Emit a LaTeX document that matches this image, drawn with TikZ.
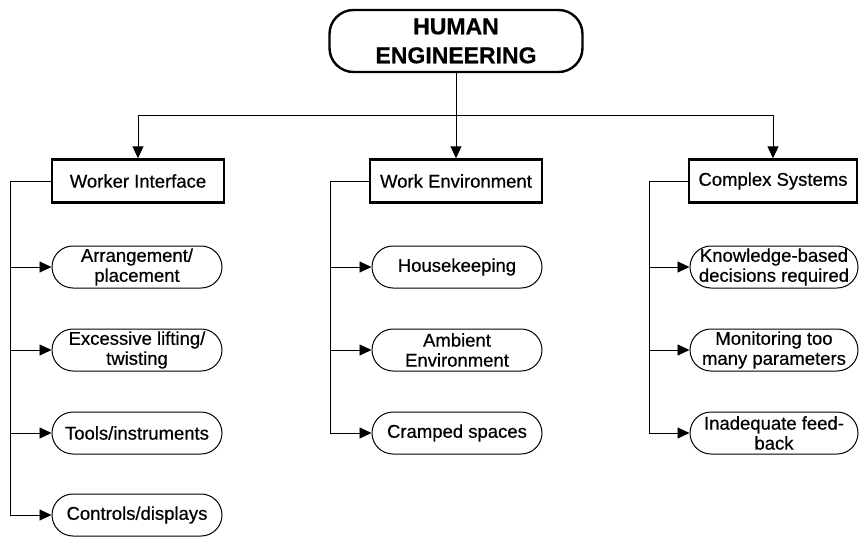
\documentclass[tikz,border=0pt]{standalone}
\usepackage{fontspec}
\setmainfont{Liberation Sans}[FakeBold=0.5]
\newfontfamily\bodyfont{Liberation Sans}[FakeBold=0.5]
\usetikzlibrary{arrows.meta}
\begin{document}
\begin{tikzpicture}[x=1pt,y=-1pt,
  every node/.style={font=\fontsize{18.5}{20}\selectfont, align=center},
  topbox/.style={draw, line width=2.4pt, rounded corners=24pt,
    minimum width=253pt, minimum height=62pt, inner sep=0pt,
    font=\bfseries\fontsize{23}{29}\selectfont},
  catbox/.style={draw, line width=2.4pt, minimum width=172pt,
    minimum height=43pt, inner sep=0pt},
  pill/.style={draw, line width=1pt, rounded corners=21pt,
    minimum width=170pt, minimum height=42pt, inner sep=0pt},
  link/.style={line width=0.9pt},
  arr/.style={link, -{Triangle[length=12pt,width=11pt]}},
]
\useasboundingbox (0,0) rectangle (860,536);

% root and the three categories
\node[topbox] (he) at (456,41) {HUMAN\\ENGINEERING};
\node[catbox] (wi) at (138,181) {\bodyfont Worker Interface};
\node[catbox] (we) at (456,181) {\bodyfont Work Environment};
\node[catbox, minimum width=168pt] (cs) at (773,181) {\bodyfont Complex Systems};

% worker interface items
\node[pill] (w1) at (137,267) {\bodyfont Arrangement/\\placement};
\node[pill] (w2) at (137,350) {\bodyfont Excessive lifting/\\twisting};
\node[pill] (w3) at (137,433) {\bodyfont Tools/instruments};
\node[pill] (w4) at (137,515) {\bodyfont Controls/displays};

% work environment items
\node[pill] (e1) at (457,267) {\bodyfont Housekeeping};
\node[pill] (e2) at (457,350) {\bodyfont Ambient\\Environment};
\node[pill] (e3) at (457,433) {\bodyfont Cramped spaces};

% complex systems items
\node[pill, minimum width=168pt] (c1) at (774,267) {\bodyfont Knowledge-based\\decisions required};
\node[pill, minimum width=168pt] (c2) at (774,350) {\bodyfont Monitoring too\\many parameters};
\node[pill, minimum width=168pt] (c3) at (774,433) {\bodyfont Inadequate feed-\\back};

% root to categories
\coordinate (tj) at (456,115);
\draw[link] (he.south) -- (tj);
\draw[arr] (tj) -| (wi.north);
\draw[arr] (tj) -- (we.north);
\draw[arr] (tj) -| (cs.north);

% brackets down the left of each column
\coordinate (wl) at (10,181);
\draw[arr] (wi.west) -- (wl) |- (w4.west);
\draw[arr] (wl |- w1.west) -- (w1.west);
\draw[arr] (wl |- w2.west) -- (w2.west);
\draw[arr] (wl |- w3.west) -- (w3.west);

\coordinate (el) at (330,181);
\draw[arr] (we.west) -- (el) |- (e3.west);
\draw[arr] (el |- e1.west) -- (e1.west);
\draw[arr] (el |- e2.west) -- (e2.west);

\coordinate (cl) at (649,181);
\draw[arr] (cs.west) -- (cl) |- (c3.west);
\draw[arr] (cl |- c1.west) -- (c1.west);
\draw[arr] (cl |- c2.west) -- (c2.west);
\end{tikzpicture}
\end{document}
